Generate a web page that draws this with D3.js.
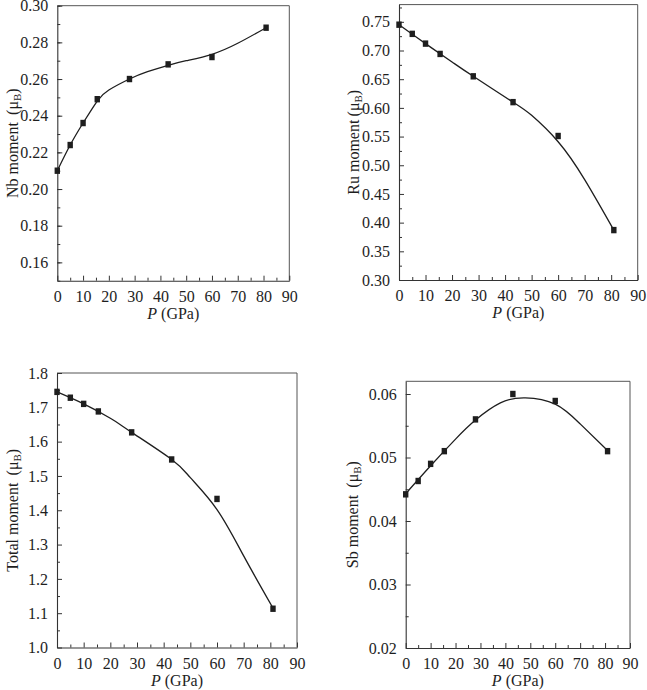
<!DOCTYPE html>
<html>
<head>
<meta charset="utf-8">
<script src="https://cdn.jsdelivr.net/npm/d3@7"></script>
<style>
  html, body { margin: 0; padding: 0; background: #fff; }
  svg { display: block; }
  svg text { font-family: "Liberation Serif", "Times New Roman", serif !important; }
</style>
</head>
<body>
<svg id="chart" width="647" height="690"></svg>
<script>
// ---- Data ----
const pressure = [0, 5, 10, 15.5, 28, 43, 60, 81];

const nbMoment    = [0.210, 0.224, 0.236, 0.249, 0.260, 0.268, 0.272, 0.288];
const ruMoment    = [0.745, 0.729, 0.712, 0.694, 0.655, 0.610, 0.551, 0.387];
const totalMoment = [1.745, 1.728, 1.710, 1.688, 1.627, 1.548, 1.433, 1.113];
const sbMoment    = [0.0442, 0.0463, 0.0490, 0.0510, 0.0560, 0.0600, 0.0589, 0.0510];

// fitted curves
const nbCurveP    = [0, 5, 10, 15.5, 20, 28, 35, 43, 50, 60, 70, 81];
const nbCurveV    = [0.210, 0.224, 0.236, 0.248, 0.254, 0.2600, 0.264, 0.2675, 0.270, 0.2735, 0.2795, 0.288];
const ruCurveP    = [0, 10, 20, 28, 43, 50, 60, 70, 81];
const ruCurveV    = [0.745, 0.712, 0.680, 0.655, 0.610, 0.587, 0.541, 0.475, 0.387];
const totalCurveP = [0, 10, 20, 28, 43, 50, 60, 70, 81];
const totalCurveV = [1.745, 1.710, 1.668, 1.627, 1.548, 1.495, 1.402, 1.267, 1.115];
const sbCurveP    = [0, 10, 20, 28, 38, 48, 60, 70, 81];
const sbCurveV    = [0.0443, 0.0487, 0.0529, 0.0559, 0.0586, 0.0594, 0.0584, 0.0553, 0.0511];

// axis ticks
const xTicks   = [0, 10, 20, 30, 40, 50, 60, 70, 80, 90];
const nbTicks  = [0.16, 0.18, 0.20, 0.22, 0.24, 0.26, 0.28, 0.30];
const ruTicks  = [0.30, 0.35, 0.40, 0.45, 0.50, 0.55, 0.60, 0.65, 0.70, 0.75];
const totTicks = [1.0, 1.1, 1.2, 1.3, 1.4, 1.5, 1.6, 1.7, 1.8];
const sbTicks  = [0.02, 0.03, 0.04, 0.05, 0.06];

const svg = d3.select("#chart");
const INK = "#1e1e1e";
const SERIF = '"Liberation Serif", "Times New Roman", serif';

function drawPanel(cfg) {
  const x = d3.scaleLinear().domain([0, 90]).range([cfg.left, cfg.right]);
  const y = d3.scaleLinear().domain(cfg.yDomain).range([cfg.bottom, cfg.top]);
  const g = svg.append("g");

  // frame (top/right)
  g.append("line").attr("x1", cfg.left).attr("x2", cfg.right).attr("y1", cfg.top).attr("y2", cfg.top)
    .attr("stroke", "#555").attr("stroke-width", 1);
  g.append("line").attr("x1", cfg.right).attr("x2", cfg.right).attr("y1", cfg.top).attr("y2", cfg.bottom)
    .attr("stroke", "#555").attr("stroke-width", 1);

  // x axis (ticks inward)
  const xAxis = d3.axisBottom(x).tickValues(xTicks).tickFormat(d3.format("d")).tickSizeInner(-5).tickSizeOuter(0).tickPadding(10);
  const gx = g.append("g").attr("transform", `translate(0,${cfg.bottom})`).call(xAxis);
  const xMinor = d3.axisBottom(x).tickValues(d3.range(5, 90, 10)).tickFormat("").tickSizeInner(-3).tickSizeOuter(0);
  const gxm = g.append("g").attr("transform", `translate(0,${cfg.bottom})`).call(xMinor);
  gxm.select(".domain").remove();

  // y axis (ticks inward)
  const yAxis = d3.axisLeft(y).tickValues(cfg.yTicks).tickFormat(d3.format(cfg.fmt)).tickSizeInner(-5).tickSizeOuter(0).tickPadding(9);
  const gy = g.append("g").attr("transform", `translate(${cfg.left},0)`).call(yAxis);
  const yMinor = d3.axisLeft(y).tickValues(cfg.yMinor).tickFormat("").tickSizeInner(-3).tickSizeOuter(0);
  const gym = g.append("g").attr("transform", `translate(${cfg.left},0)`).call(yMinor);
  gym.select(".domain").remove();

  [gx, gy, gxm, gym].forEach(a => {
    a.attr("font-family", SERIF).attr("font-size", 16);
    a.selectAll(".domain").attr("stroke", "#333").attr("stroke-width", 1.1);
    a.selectAll(".tick line").attr("stroke", "#333").attr("stroke-width", 1);
    a.selectAll(".tick text").style("font-size", "16px").attr("fill", INK);
  });

  // fitted curve
  const line = d3.line().x(d => x(d[0])).y(d => y(d[1])).curve(d3.curveNatural);
  g.append("path").datum(d3.zip(cfg.curveP, cfg.curveV))
    .attr("d", line).attr("fill", "none").attr("stroke", INK).attr("stroke-width", 1.3);

  // markers
  g.selectAll("rect.pt").data(d3.zip(pressure, cfg.values)).join("rect")
    .attr("class", "pt")
    .attr("x", d => x(d[0]) - 2.7).attr("y", d => y(d[1]) - 3.2)
    .attr("width", 5.4).attr("height", 6.4).attr("fill", INK);

  // x label
  const xl = g.append("text").attr("x", (cfg.left + cfg.right) / 2).attr("y", cfg.bottom + 38)
    .attr("text-anchor", "middle").style("font-size", "16px").attr("fill", INK);
  xl.append("tspan").attr("font-style", "italic").text("P");
  xl.append("tspan").text(" (GPa)");

  // y label
  const yl = g.append("text")
    .attr("transform", `translate(${cfg.yLabelX},${(cfg.top + cfg.bottom) / 2}) rotate(-90)`)
    .attr("text-anchor", "middle").attr("dy", "0.35em").style("font-size", "16px").attr("fill", INK);
  yl.append("tspan").text(cfg.yLabel + "\u2009(\u03bc");
  yl.append("tspan").style("font-size", "11px").attr("dy", 3).text("B");
  yl.append("tspan").attr("dy", -3).text(")");
}

drawPanel({
  left: 57.3, right: 289.3, top: 5.7, bottom: 280.7,
  yDomain: [0.15, 0.30], yTicks: nbTicks, yMinor: d3.range(0.15, 0.305, 0.01), fmt: ".2f",
  values: nbMoment, curveP: nbCurveP, curveV: nbCurveV,
  yLabel: "Nb moment ", yLabelX: 12
});
drawPanel({
  left: 399, right: 637.7, top: 4.6, bottom: 280,
  yDomain: [0.30, 0.78], yTicks: ruTicks, yMinor: d3.range(0.325, 0.78, 0.05), fmt: ".2f",
  values: ruMoment, curveP: ruCurveP, curveV: ruCurveV,
  yLabel: "Ru moment", yLabelX: 353
});
drawPanel({
  left: 57, right: 297, top: 373, bottom: 647.5,
  yDomain: [1.0, 1.8], yTicks: totTicks, yMinor: d3.range(1.05, 1.8, 0.1), fmt: ".1f",
  values: totalMoment, curveP: totalCurveP, curveV: totalCurveV,
  yLabel: "Total moment ", yLabelX: 12
});
drawPanel({
  left: 405.7, right: 630, top: 381.3, bottom: 648,
  yDomain: [0.02, 0.062], yTicks: sbTicks, yMinor: d3.range(0.025, 0.062, 0.01), fmt: ".2f",
  values: sbMoment, curveP: sbCurveP, curveV: sbCurveV,
  yLabel: "Sb moment ", yLabelX: 352
});
</script>
</body>
</html>
